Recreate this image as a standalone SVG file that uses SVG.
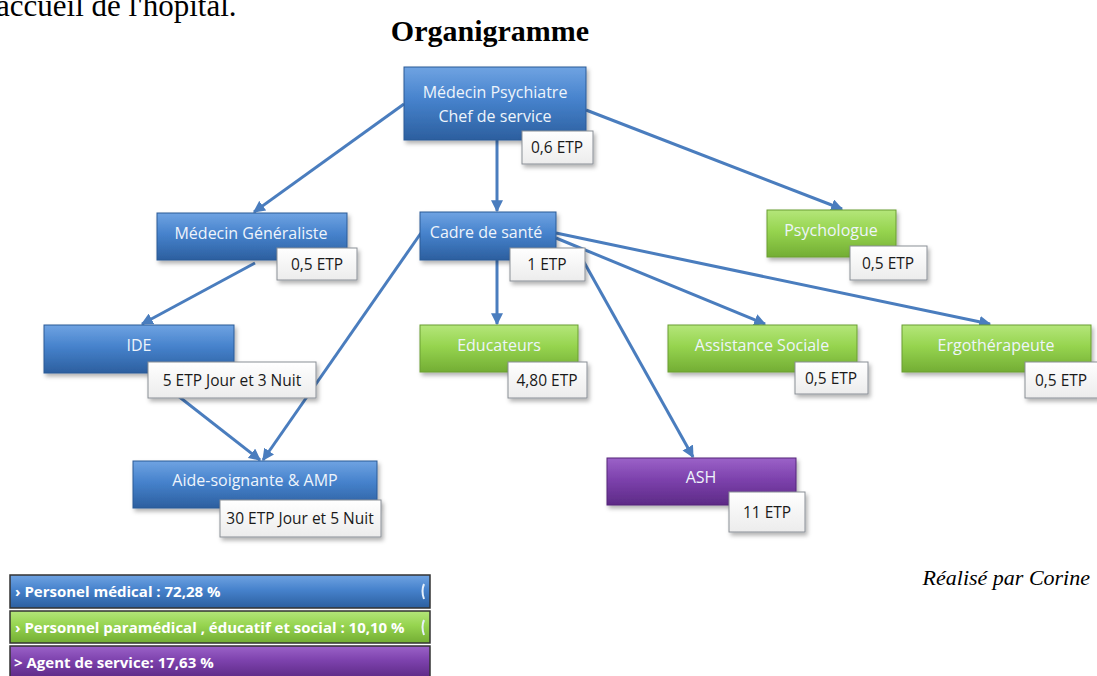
<svg xmlns="http://www.w3.org/2000/svg" width="1097" height="676" viewBox="0 0 1097 676">
<defs>
<linearGradient id="gBlue" x1="0" y1="0" x2="0" y2="1">
<stop offset="0" stop-color="#6fa3e2"/><stop offset="0.45" stop-color="#4682cc"/><stop offset="1" stop-color="#2c5f9f"/>
</linearGradient>
<linearGradient id="gGreen" x1="0" y1="0" x2="0" y2="1">
<stop offset="0" stop-color="#b4e67a"/><stop offset="0.45" stop-color="#96d44f"/><stop offset="1" stop-color="#73ad34"/>
</linearGradient>
<linearGradient id="gPurple" x1="0" y1="0" x2="0" y2="1">
<stop offset="0" stop-color="#9b62c8"/><stop offset="0.45" stop-color="#7d42ad"/><stop offset="1" stop-color="#5d2a86"/>
</linearGradient>
<linearGradient id="gWhite" x1="0" y1="0" x2="0" y2="1">
<stop offset="0" stop-color="#ffffff"/><stop offset="1" stop-color="#ececec"/>
</linearGradient>
<filter id="sh" x="-10%" y="-20%" width="130%" height="160%">
<feDropShadow dx="2" dy="3" stdDeviation="2" flood-color="#000" flood-opacity="0.3"/>
</filter>
<marker id="arr" viewBox="0 0 10 10" refX="9" refY="5" markerWidth="4" markerHeight="4" orient="auto" markerUnits="strokeWidth">
<path d="M0,0 L10,5 L0,10 z" fill="#4a7dbe"/>
</marker>
<style>
.nb{fill:url(#gBlue);stroke:#2a5a96;stroke-width:1}
.ng{fill:url(#gGreen);stroke:#6a9e32;stroke-width:1}
.np{fill:url(#gPurple);stroke:#552678;stroke-width:1}
.et{fill:url(#gWhite);stroke:#8a8f96;stroke-width:1}
.lbl{font-family:"Open Sans","Liberation Sans",sans-serif;font-size:16px;fill:#eef4fb;text-anchor:middle}
.etx{font-family:"Open Sans","Liberation Sans",sans-serif;font-size:15.5px;fill:#1a1a1a;text-anchor:middle}
.con{stroke:#4a7dbe;stroke-width:3;fill:none;marker-end:url(#arr)}
.leg{font-family:"Open Sans","Liberation Sans",sans-serif;font-size:15px;font-weight:bold;fill:#ffffff}
.brk{fill:none;stroke:#e6f0fb;stroke-width:2}
</style>
</defs>
<rect width="1097" height="676" fill="#ffffff"/>
<text x="-4" y="16" font-family="Liberation Serif, serif" font-size="31" fill="#000">accueil de l'hôpital.</text>
<text x="490" y="41" font-family="Liberation Serif, serif" font-size="30" font-weight="bold" fill="#000" text-anchor="middle">Organigramme</text>

<g id="connectors">
<line class="con" x1="404" y1="104" x2="254" y2="212"/>
<line class="con" x1="497" y1="140" x2="497" y2="211"/>
<line class="con" x1="586" y1="110" x2="842" y2="209"/>
<line class="con" x1="255" y1="263" x2="142" y2="324"/>
<line class="con" x1="150" y1="374" x2="260" y2="460"/>
<line class="con" x1="421" y1="233" x2="263" y2="460"/>
<line class="con" x1="497" y1="260" x2="497" y2="324"/>
<line class="con" x1="580" y1="255" x2="693" y2="457"/>
<line class="con" x1="556" y1="238" x2="765" y2="324"/>
<line class="con" x1="556" y1="233" x2="990" y2="324"/>
</g>

<g id="n-psychiatre">
<rect class="nb" x="404" y="67" width="182" height="73" filter="url(#sh)"/>
<text class="lbl" x="495" y="98">Médecin Psychiatre</text>
<text class="lbl" x="495" y="122">Chef de service</text>
<rect class="et" x="522" y="131" width="71" height="33" filter="url(#sh)"/>
<text class="etx" x="557" y="153">0,6 ETP</text>
</g>

<g id="n-generaliste">
<rect class="nb" x="157" y="213" width="190" height="47" filter="url(#sh)"/>
<text class="lbl" x="251" y="239">Médecin Généraliste</text>
<rect class="et" x="277" y="248" width="80" height="32" filter="url(#sh)"/>
<text class="etx" x="317" y="270">0,5 ETP</text>
</g>

<g id="n-cadre">
<rect class="nb" x="420" y="212" width="136" height="48" filter="url(#sh)"/>
<text class="lbl" x="486" y="238">Cadre de santé</text>
<rect class="et" x="510" y="248" width="75" height="33" filter="url(#sh)"/>
<text class="etx" x="547" y="270">1 ETP</text>
</g>

<g id="n-psychologue">
<rect class="ng" x="767" y="210" width="129" height="47" filter="url(#sh)"/>
<text class="lbl" x="831" y="236">Psychologue</text>
<rect class="et" x="850" y="246" width="77" height="34" filter="url(#sh)"/>
<text class="etx" x="888" y="269">0,5 ETP</text>
</g>

<g id="n-ide">
<rect class="nb" x="44" y="325" width="190" height="48" filter="url(#sh)"/>
<text class="lbl" x="139" y="351">IDE</text>
<rect class="et" x="148" y="362" width="168" height="36" filter="url(#sh)"/>
<text class="etx" x="232" y="386">5 ETP Jour  et 3 Nuit</text>
</g>

<g id="n-educateurs">
<rect class="ng" x="420" y="325" width="158" height="47" filter="url(#sh)"/>
<text class="lbl" x="499" y="351">Educateurs</text>
<rect class="et" x="508" y="362" width="79" height="36" filter="url(#sh)"/>
<text class="etx" x="547" y="386">4,80 ETP</text>
</g>

<g id="n-assistance">
<rect class="ng" x="668" y="325" width="189" height="47" filter="url(#sh)"/>
<text class="lbl" x="762" y="351">Assistance Sociale</text>
<rect class="et" x="795" y="362" width="73" height="32" filter="url(#sh)"/>
<text class="etx" x="831" y="384">0,5 ETP</text>
</g>

<g id="n-ergo">
<rect class="ng" x="902" y="325" width="189" height="47" filter="url(#sh)"/>
<text class="lbl" x="996" y="351">Ergothérapeute</text>
<rect class="et" x="1025" y="362" width="74" height="36" filter="url(#sh)"/>
<text class="etx" x="1061" y="386">0,5 ETP</text>
</g>

<g id="n-aide">
<rect class="nb" x="133" y="461" width="244" height="47" filter="url(#sh)"/>
<text class="lbl" x="255" y="486">Aide-soignante &amp; AMP</text>
<rect class="et" x="220" y="500" width="161" height="37" filter="url(#sh)"/>
<text class="etx" x="300" y="524">30 ETP Jour  et 5 Nuit</text>
</g>

<g id="n-ash">
<rect class="np" x="607" y="458" width="189" height="47" filter="url(#sh)"/>
<text class="lbl" x="701" y="483">ASH</text>
<rect class="et" x="729" y="492" width="76" height="40" filter="url(#sh)"/>
<text class="etx" x="767" y="518">11 ETP</text>
</g>

<g id="legend">
<rect x="10" y="575" width="420" height="33" fill="url(#gBlue)" stroke="#333" stroke-width="1.5"/>
<text class="leg" x="15" y="597">› Personel médical : 72,28  %</text>
<path class="brk" d="M424,584 Q421,591 424,599"/>
<rect x="10" y="611" width="420" height="32" fill="url(#gGreen)" stroke="#333" stroke-width="1.5"/>
<text class="leg" x="15" y="633">› Personnel paramédical , éducatif et social : 10,10  %</text>
<path class="brk" d="M424,620 Q421,627 424,635"/>
<rect x="10" y="646" width="420" height="32" fill="url(#gPurple)" stroke="#333" stroke-width="1.5"/>
<text class="leg" x="14" y="668">&gt; Agent de service: 17,63  %</text>
</g>

<text x="1090" y="585" font-family="Liberation Serif, serif" font-size="22" font-style="italic" fill="#000" text-anchor="end">Réalisé par Corine</text>
</svg>
